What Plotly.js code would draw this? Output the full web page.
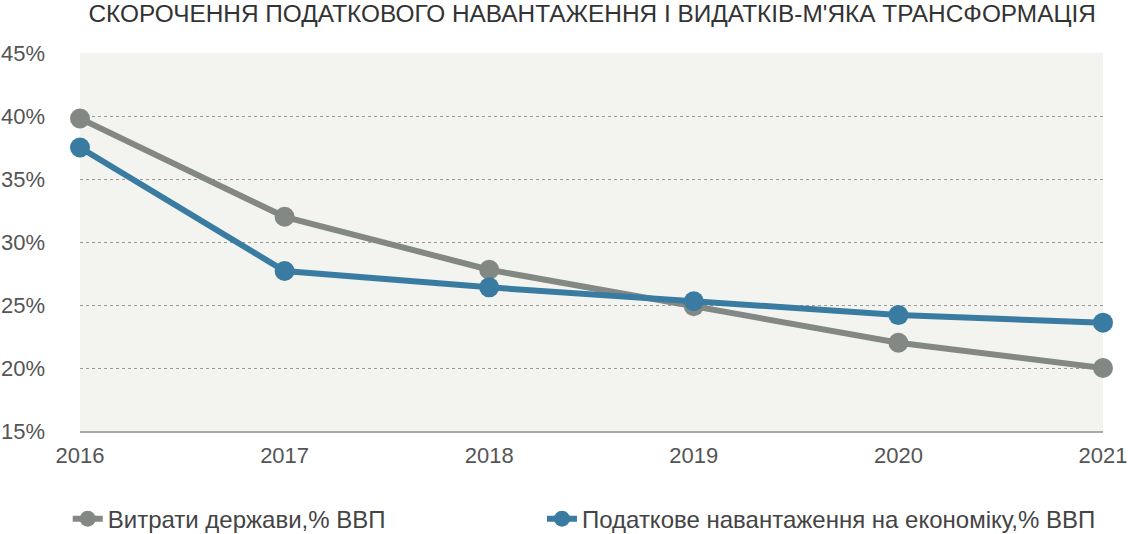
<!DOCTYPE html>
<html>
<head>
<meta charset="utf-8">
<script src="https://cdn.plot.ly/plotly-3.0.1.min.js"></script>
<style>html,body{margin:0;padding:0;background:#fff;}</style>
</head>
<body>
<div id="chart" style="width:1128px;height:534px;"></div>
<script>
const years = [2016, 2017, 2018, 2019, 2020, 2021];
const spending = [39.8, 32.0, 27.8, 24.9, 22.0, 20.0];
const taxBurden = [37.5, 27.7, 26.4, 25.3, 24.2, 23.6];
const yTicks = [15, 20, 25, 30, 35, 40, 45];
const yTickText = ["15%", "20%", "25%", "30%", "35%", "40%", "45%"];
const seriesNames = ["Витрати держави,% ВВП", "Податкове навантаження на економіку,% ВВП"];
const titleText = "СКОРОЧЕННЯ ПОДАТКОВОГО НАВАНТАЖЕННЯ І ВИДАТКІВ-М'ЯКА ТРАНСФОРМАЦІЯ";

const gray = "#838885";
const blue = "#3a7ca1";

const traces = [
  {
    x: years, y: spending, name: seriesNames[0], type: "scatter", mode: "lines+markers",
    line: {color: gray, width: 6}, marker: {color: gray, size: 20}, cliponaxis: false,
    legend: "legend"
  },
  {
    x: years, y: taxBurden, name: seriesNames[1], type: "scatter", mode: "lines+markers",
    line: {color: blue, width: 6}, marker: {color: blue, size: 20}, cliponaxis: false,
    legend: "legend2"
  }
];

const legendFont = {family: "Liberation Sans, Arial, sans-serif", size: 24, color: "#444444"};

const layout = {
  width: 1128, height: 534,
  margin: {l: 80, r: 25, t: 53, b: 103, autoexpand: false},
  paper_bgcolor: "#ffffff",
  plot_bgcolor: "#f3f4ef",
  font: {family: "Liberation Sans, Arial, sans-serif", color: "#555555", size: 22},
  title: {
    text: titleText,
    font: {family: "Liberation Sans, Arial, sans-serif", size: 24.4, color: "#333333"},
    x: 0.525, xanchor: "center", y: 0.975, yanchor: "middle"
  },
  showlegend: true,
  legend: {
    orientation: "h", x: -0.012, xanchor: "left", y: -0.233, yanchor: "middle",
    font: legendFont, itemclick: false, bgcolor: "rgba(0,0,0,0)"
  },
  legend2: {
    orientation: "h", x: 0.4516, xanchor: "left", y: -0.233, yanchor: "middle",
    font: legendFont, itemclick: false, bgcolor: "rgba(0,0,0,0)"
  },
  xaxis: {
    range: [2016, 2021], tickvals: years, ticktext: years.map(String),
    showgrid: false, zeroline: false,
    showline: true, linecolor: "#aaaaaa", linewidth: 2,
    ticks: "", ticklabelstandoff: 4,
    tickfont: {size: 22, color: "#555555"}
  },
  yaxis: {
    range: [15, 45], tickvals: yTicks, ticktext: yTickText,
    showgrid: true, gridcolor: "#9a9a9a", gridwidth: 1, griddash: "dot",
    zeroline: false, showline: false, ticks: "",
    ticklabelstandoff: 34,
    tickfont: {size: 22, color: "#555555"}
  }
};

Plotly.newPlot("chart", traces, layout, {displayModeBar: false, staticPlot: true});
</script>
</body>
</html>
